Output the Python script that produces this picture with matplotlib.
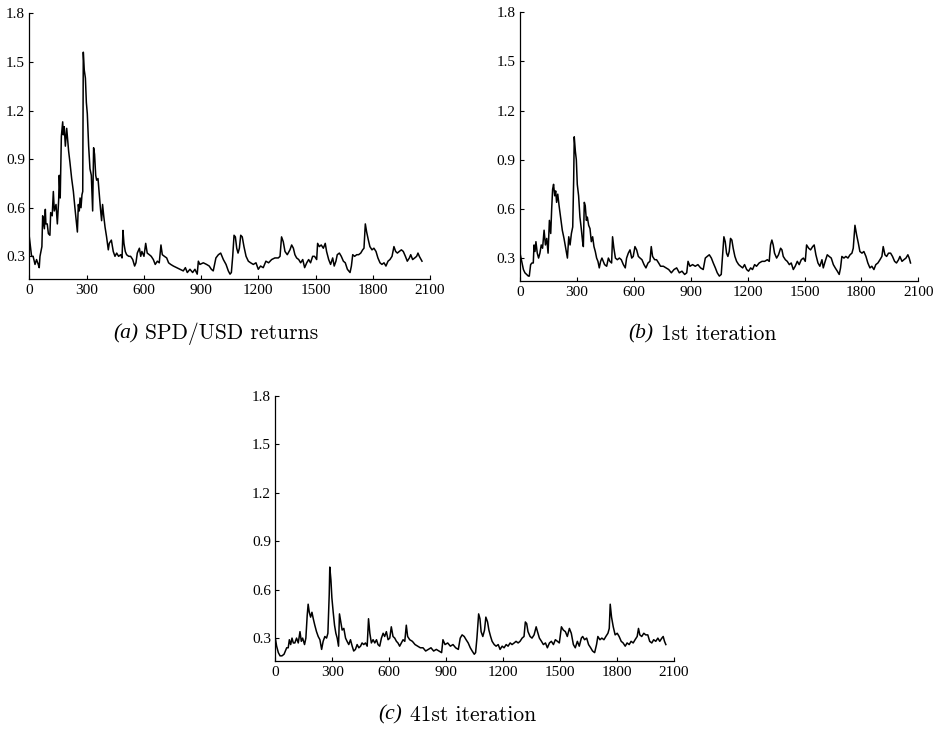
'''

volatility series: returns and iterations


'''
import numpy as np
import matplotlib
matplotlib.use('Agg')
import matplotlib.pyplot as plt

# (a) SPD/USD returns
a_x = [0, 12, 20, 30, 38, 47, 52, 56, 66, 70, 73, 79, 84, 87, 94, 100, 108, 112, 120, 126,
       131, 140, 147, 154, 157, 162, 168, 175, 178, 183, 189, 196, 201, 206, 213, 222, 231, 239,
       252, 257, 262, 266, 271, 276, 280, 283, 288, 294, 299, 304, 311, 318, 325, 332, 337, 342,
       348, 353, 360, 367, 374, 379, 384, 390, 397, 405, 414, 419, 430, 440, 449, 458, 468, 479,
       486, 491, 496, 503, 510, 521, 531, 542, 552, 559, 566, 577, 584, 590, 601, 610, 618, 629,
       639, 650, 660, 671, 681, 690, 697, 708, 720, 730, 741, 755, 772, 790, 807, 818, 828, 842,
       856, 868, 880, 886, 894, 912, 929, 943, 954, 964, 978, 991, 1003, 1017, 1031, 1043, 1052,
       1059, 1066, 1073, 1080, 1087, 1094, 1101, 1108, 1116, 1125, 1136, 1148, 1160, 1174, 1188,
       1200, 1212, 1226, 1240, 1254, 1270, 1287, 1305, 1314, 1322, 1331, 1340, 1352, 1366, 1375,
       1384, 1392, 1401, 1412, 1422, 1433, 1443, 1454, 1464, 1474, 1485, 1495, 1506, 1511, 1520,
       1530, 1541, 1551, 1558, 1569, 1579, 1590, 1598, 1607, 1614, 1625, 1635, 1646, 1656, 1667,
       1681, 1688, 1695, 1705, 1716, 1726, 1737, 1747, 1754, 1761, 1768, 1777, 1785, 1796, 1806,
       1817, 1827, 1838, 1848, 1859, 1869, 1880, 1890, 1901, 1911, 1920, 1929, 1939, 1950, 1960,
       1971, 1981, 1992, 1999, 2009, 2020, 2030, 2037, 2044, 2058]
a_y = [0.42, 0.30, 0.30, 0.25, 0.28, 0.25, 0.23, 0.30, 0.36, 0.55, 0.52, 0.47, 0.59, 0.50,
       0.50, 0.44, 0.43, 0.57, 0.55, 0.70, 0.58, 0.62, 0.50, 0.65, 0.80, 0.66, 1.04, 1.13, 1.05,
       1.10, 0.98, 1.09, 1.02, 0.95, 0.88, 0.78, 0.70, 0.60, 0.45, 0.62, 0.58, 0.66, 0.60, 0.68,
       0.70, 1.56, 1.45, 1.40, 1.25, 1.18, 0.98, 0.84, 0.80, 0.58, 0.97, 0.93, 0.80, 0.77, 0.78,
       0.68, 0.58, 0.52, 0.62, 0.55, 0.48, 0.42, 0.34, 0.38, 0.40, 0.33, 0.30, 0.32, 0.30, 0.31,
       0.29, 0.46, 0.38, 0.33, 0.31, 0.30, 0.30, 0.28, 0.24, 0.26, 0.32, 0.35, 0.30, 0.33, 0.30,
       0.38, 0.32, 0.31, 0.30, 0.28, 0.25, 0.27, 0.26, 0.37, 0.31, 0.30, 0.29, 0.26, 0.25, 0.24,
       0.23, 0.22, 0.21, 0.23, 0.20, 0.22, 0.20, 0.22, 0.19, 0.27, 0.25, 0.26, 0.25, 0.24, 0.22,
       0.21, 0.29, 0.31, 0.32, 0.28, 0.25, 0.21, 0.19, 0.20, 0.30, 0.43, 0.42, 0.35, 0.32, 0.35,
       0.43, 0.42, 0.36, 0.30, 0.27, 0.26, 0.25, 0.26, 0.22, 0.24, 0.23, 0.27, 0.26, 0.28, 0.29,
       0.29, 0.30, 0.42, 0.39, 0.33, 0.31, 0.34, 0.37, 0.35, 0.31, 0.29, 0.28, 0.26, 0.28, 0.23,
       0.26, 0.28, 0.26, 0.30, 0.30, 0.28, 0.38, 0.36, 0.37, 0.35, 0.38, 0.33, 0.28, 0.25, 0.29,
       0.24, 0.27, 0.31, 0.32, 0.30, 0.27, 0.26, 0.22, 0.20, 0.24, 0.31, 0.30, 0.31, 0.31, 0.32,
       0.34, 0.35, 0.50, 0.45, 0.40, 0.36, 0.34, 0.35, 0.33, 0.29, 0.26, 0.25, 0.26, 0.24, 0.27,
       0.28, 0.30, 0.36, 0.33, 0.32, 0.33, 0.34, 0.33, 0.30, 0.27, 0.29, 0.31, 0.28, 0.29, 0.30,
       0.32, 0.30, 0.27]

# (b) 1st iteration
b_x = [0, 9, 18, 26, 35, 44, 49, 56, 63, 70, 74, 79, 84, 91, 98, 105, 112, 119, 127, 134,
       141, 148, 155, 162, 167, 172, 177, 183, 188, 193, 199, 206, 214, 223, 232, 241, 250, 257,
       264, 271, 278, 283, 286, 292, 297, 302, 309, 316, 323, 330, 334, 339, 344, 350, 355, 362,
       369, 376, 383, 390, 397, 404, 411, 418, 425, 432, 439, 446, 457, 466, 474, 483, 488, 495,
       503, 513, 524, 534, 545, 555, 562, 571, 580, 589, 597, 606, 615, 624, 633, 643, 654, 664,
       675, 685, 692, 699, 710, 720, 731, 741, 756, 770, 784, 798, 812, 826, 840, 854, 868, 879,
       886, 896, 910, 924, 938, 952, 966, 977, 987, 998, 1009, 1019, 1030, 1040, 1051, 1061,
       1068, 1075, 1082, 1089, 1096, 1103, 1110, 1117, 1124, 1133, 1142, 1153, 1163, 1174, 1184,
       1195, 1205, 1216, 1226, 1237, 1247, 1261, 1276, 1290, 1304, 1314, 1321, 1328, 1335, 1342,
       1353, 1363, 1374, 1381, 1388, 1399, 1409, 1420, 1430, 1441, 1451, 1462, 1472, 1483, 1494,
       1504, 1511, 1522, 1532, 1543, 1551, 1560, 1571, 1581, 1592, 1599, 1609, 1620, 1630, 1641,
       1652, 1662, 1673, 1683, 1690, 1697, 1708, 1718, 1729, 1740, 1750, 1757, 1766, 1775, 1784,
       1792, 1803, 1813, 1824, 1834, 1845, 1855, 1866, 1876, 1887, 1898, 1908, 1915, 1924, 1933,
       1943, 1954, 1964, 1975, 1985, 1996, 2003, 2014, 2024, 2035, 2045, 2052, 2059]
b_y = [0.33, 0.28, 0.23, 0.21, 0.20, 0.19, 0.19, 0.26, 0.27, 0.27, 0.38, 0.34, 0.40, 0.33,
       0.30, 0.33, 0.38, 0.36, 0.47, 0.38, 0.42, 0.33, 0.53, 0.45, 0.60, 0.72, 0.75, 0.68, 0.71,
       0.64, 0.69, 0.62, 0.55, 0.47, 0.42, 0.36, 0.30, 0.43, 0.38, 0.45, 0.49, 0.78, 1.04, 0.95,
       0.90, 0.75, 0.68, 0.55, 0.48, 0.40, 0.37, 0.64, 0.62, 0.53, 0.55, 0.50, 0.48, 0.40, 0.43,
       0.37, 0.34, 0.30, 0.28, 0.24, 0.28, 0.30, 0.28, 0.26, 0.25, 0.30, 0.28, 0.27, 0.43, 0.36,
       0.30, 0.29, 0.30, 0.29, 0.26, 0.24, 0.30, 0.33, 0.35, 0.30, 0.31, 0.37, 0.35, 0.31, 0.30,
       0.29, 0.26, 0.24, 0.27, 0.28, 0.37, 0.31, 0.29, 0.29, 0.27, 0.25, 0.25, 0.24, 0.23, 0.21,
       0.23, 0.24, 0.21, 0.22, 0.20, 0.21, 0.28, 0.25, 0.26, 0.25, 0.26, 0.24, 0.23, 0.30, 0.31,
       0.32, 0.30, 0.27, 0.24, 0.21, 0.19, 0.20, 0.32, 0.43, 0.40, 0.33, 0.31, 0.34, 0.42, 0.41,
       0.36, 0.31, 0.28, 0.26, 0.25, 0.24, 0.26, 0.23, 0.22, 0.24, 0.23, 0.26, 0.25, 0.27, 0.28,
       0.28, 0.29, 0.28, 0.38, 0.41, 0.38, 0.33, 0.30, 0.32, 0.36, 0.35, 0.31, 0.29, 0.28, 0.26,
       0.27, 0.23, 0.25, 0.28, 0.26, 0.29, 0.30, 0.28, 0.38, 0.36, 0.35, 0.37, 0.38, 0.32, 0.27,
       0.25, 0.29, 0.24, 0.28, 0.32, 0.31, 0.30, 0.26, 0.24, 0.22, 0.20, 0.24, 0.31, 0.30, 0.31,
       0.30, 0.32, 0.33, 0.36, 0.50, 0.44, 0.39, 0.34, 0.33, 0.34, 0.31, 0.27, 0.24, 0.25, 0.23,
       0.26, 0.27, 0.29, 0.31, 0.37, 0.32, 0.31, 0.33, 0.33, 0.31, 0.28, 0.27, 0.29, 0.31, 0.28,
       0.29, 0.30, 0.32, 0.30, 0.27]

# (c) 41st iteration
c_x = [0, 7, 16, 25, 35, 46, 53, 60, 68, 74, 81, 88, 95, 103, 112, 121, 130, 137, 144, 154,
       161, 168, 173, 179, 186, 193, 200, 208, 217, 226, 235, 244, 252, 261, 270, 277, 284, 287,
       293, 298, 305, 312, 319, 326, 333, 338, 345, 352, 361, 370, 378, 387, 396, 405, 413, 422,
       431, 440, 449, 457, 466, 475, 484, 491, 498, 506, 515, 524, 533, 541, 550, 559, 568, 576,
       585, 594, 603, 611, 620, 629, 638, 646, 655, 664, 673, 682, 690, 697, 708, 722, 736, 750,
       764, 778, 792, 806, 820, 834, 848, 862, 876, 883, 894, 908, 922, 936, 950, 964, 974, 984,
       995, 1005, 1016, 1027, 1037, 1048, 1055, 1062, 1071, 1078, 1084, 1093, 1102, 1109, 1118,
       1125, 1134, 1142, 1153, 1163, 1174, 1184, 1195, 1205, 1216, 1226, 1237, 1247, 1258, 1268,
       1279, 1289, 1300, 1310, 1317, 1324, 1331, 1342, 1352, 1363, 1374, 1381, 1391, 1402, 1412,
       1423, 1433, 1444, 1454, 1465, 1475, 1486, 1496, 1507, 1517, 1528, 1538, 1549, 1559, 1570,
       1580, 1591, 1601, 1612, 1619, 1629, 1640, 1650, 1661, 1671, 1682, 1692, 1699, 1710, 1720,
       1731, 1741, 1752, 1759, 1764, 1771, 1780, 1790, 1801, 1811, 1822, 1832, 1843, 1853, 1864,
       1874, 1885, 1895, 1906, 1913, 1920, 1930, 1941, 1951, 1962, 1972, 1983, 1993, 2004, 2015,
       2025, 2036, 2043, 2050, 2057]
c_y = [0.30, 0.25, 0.21, 0.19, 0.19, 0.20, 0.22, 0.24, 0.24, 0.29, 0.26, 0.30, 0.27, 0.27,
       0.30, 0.27, 0.34, 0.28, 0.30, 0.26, 0.30, 0.44, 0.51, 0.46, 0.43, 0.46, 0.42, 0.38, 0.34,
       0.31, 0.29, 0.23, 0.28, 0.31, 0.30, 0.33, 0.57, 0.74, 0.66, 0.55, 0.46, 0.38, 0.33, 0.30,
       0.25, 0.45, 0.40, 0.35, 0.36, 0.30, 0.28, 0.26, 0.29, 0.25, 0.22, 0.23, 0.26, 0.24, 0.25,
       0.27, 0.26, 0.27, 0.25, 0.42, 0.33, 0.27, 0.29, 0.27, 0.29, 0.26, 0.25, 0.30, 0.33, 0.31,
       0.34, 0.29, 0.30, 0.37, 0.31, 0.30, 0.28, 0.27, 0.25, 0.27, 0.29, 0.28, 0.38, 0.31, 0.29,
       0.28, 0.26, 0.25, 0.24, 0.24, 0.22, 0.23, 0.24, 0.22, 0.23, 0.22, 0.21, 0.29, 0.26, 0.27,
       0.25, 0.26, 0.24, 0.23, 0.30, 0.32, 0.31, 0.29, 0.27, 0.24, 0.22, 0.20, 0.21, 0.30, 0.45,
       0.42, 0.34, 0.31, 0.35, 0.43, 0.40, 0.35, 0.31, 0.28, 0.26, 0.25, 0.26, 0.23, 0.25, 0.24,
       0.26, 0.25, 0.27, 0.26, 0.27, 0.28, 0.27, 0.28, 0.30, 0.31, 0.40, 0.39, 0.34, 0.31, 0.30,
       0.32, 0.37, 0.34, 0.30, 0.28, 0.26, 0.27, 0.24, 0.27, 0.28, 0.26, 0.29, 0.28, 0.27, 0.37,
       0.35, 0.34, 0.31, 0.36, 0.33, 0.26, 0.24, 0.28, 0.25, 0.30, 0.31, 0.29, 0.30, 0.26, 0.24,
       0.22, 0.21, 0.26, 0.31, 0.29, 0.30, 0.29, 0.31, 0.33, 0.36, 0.51, 0.43, 0.37, 0.32, 0.33,
       0.31, 0.28, 0.27, 0.25, 0.27, 0.26, 0.28, 0.27, 0.29, 0.31, 0.36, 0.32, 0.31, 0.33, 0.32,
       0.32, 0.28, 0.27, 0.29, 0.28, 0.30, 0.28, 0.30, 0.31, 0.28, 0.26]

tags = ['(a)', '(b)', '(c)']
captions = ['SPD/USD returns', '1st iteration', '41st iteration']

xticks = np.arange(0, 2101, 300)
yticks = [0.3, 0.6, 0.9, 1.2, 1.5, 1.8]

W, H = 938., 731.
# axes boxes in pixels: left, right, top, bottom
boxes = [(29.3, 430.0, 13.3, 279.0), (520.0, 918.3, 12.3, 281.0), (275.3, 674.0, 396.0, 660.7)]
# caption: end of tag, start of text, baseline-ish centre
cap_pos = [(138, 145, 334), (653, 661, 334), (402, 410, 715)]

fig = plt.figure(figsize=(W / 100., H / 100.), dpi=100)
series = [(a_x, a_y), (b_x, b_y), (c_x, c_y)]

for (xs, ys), (l, r, t, b), tag, cap, (tx, cx, cy) in zip(series, boxes, tags, captions, cap_pos):
    sub = fig.add_axes([l / W, 1 - b / H, (r - l) / W, (b - t) / H])
    sub.plot(xs, ys, c='k', lw=1.1)
    sub.set_xlim([0, 2100])
    sub.set_ylim([0.16, 1.8])
    sub.set_xticks(xticks)
    sub.set_yticks(yticks)
    sub.set_yticklabels(['%.1f' % v for v in yticks])
    sub.spines['top'].set_visible(False)
    sub.spines['right'].set_visible(False)
    for s in ['left', 'bottom']:
        sub.spines[s].set_linewidth(0.9)
    sub.tick_params(direction='in', length=3, width=0.8, labelsize=11)
    sub.tick_params(axis='x', pad=3.5)
    sub.tick_params(axis='y', pad=3)
    for lab in sub.get_xticklabels() + sub.get_yticklabels():
        lab.set_family('Liberation Serif')
    fig.text(tx / W, 1 - cy / H, tag, ha='right', va='center', fontsize=15.5,
             family='Liberation Serif', style='italic')
    fig.text(cx / W, 1 - cy / H, cap, ha='left', va='center', fontsize=15.5,
             family='cmr10')

fig.savefig('out.png', dpi=100)
plt.close()
